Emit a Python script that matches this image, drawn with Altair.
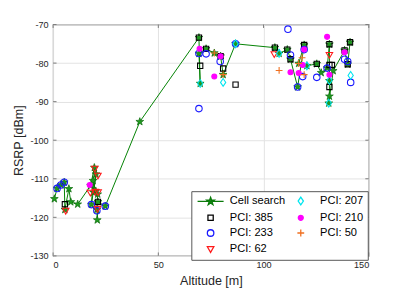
import math
import altair as alt
import pandas as pd

# ---------------- data ----------------
cs_alt = [0.6, 1.9, 3.7, 5.3, 5.6, 7.5, 8.4, 11.7, 17.8, 19.6, 19.2, 20.4, 18.2, 19.0,
          20.3, 21.2, 20.8, 21.0, 21.3, 24.8, 41.2, 69.3, 69.9, 69.3, 72.7, 76.6, 79.6,
          80.8, 86.7, 105.4, 107.4, 111.3, 112.8, 116.2, 119.3, 116.7, 120.6, 125.3,
          127.4, 130.2, 131.3, 131.3, 131.3, 131.0, 133.1, 138.5, 140.0, 141.1]
cs_rsrp = [-115.2, -112.5, -111.6, -110.9, -118.0, -112.6, -116.0, -116.6, -111.8, -107.1,
           -113.5, -108.8, -116.7, -110.5, -113.2, -114.0, -118.0, -120.7, -116.0, -117.1,
           -95.2, -73.4, -85.3, -77.5, -76.3, -77.4, -78.2, -83.0, -75.0, -76.0, -77.5,
           -76.5, -79.0, -86.2, -75.3, -80.1, -80.7, -80.2, -82.5, -81.3, -75.1, -84.6,
           -88.6, -90.4, -82.0, -76.7, -80.3, -74.6]

pci385_alt = [5.6, 21.3, 69.3, 69.9, 72.7, 79.6, 80.8, 86.7, 105.4, 111.3, 112.8, 119.3,
              125.3, 131.3, 131.3, 132.5, 131.3, 138.5, 140.0, 141.1]
pci385_rsrp = [-116.6, -116.0, -73.4, -80.7, -76.3, -78.2, -81.4, -85.6, -76.0, -76.5,
               -79.0, -75.3, -80.2, -75.1, -80.5, -80.5, -86.2, -76.7, -80.3, -74.6]

pci233_alt = [1.9, 3.7, 5.3, 18.2, 20.8, 24.8, 69.3, 72.7, 69.3, 79.4, 86.7, 111.6, 112.8,
              116.2, 118.6, 119.3, 125.3, 130.2, 138.5, 140.0, 141.4]
pci233_rsrp = [-112.5, -111.6, -110.9, -116.7, -118.3, -117.1, -77.5, -77.6, -91.8, -79.6,
               -75.0, -71.2, -77.9, -86.2, -83.5, -76.5, -83.7, -81.3, -79.0, -79.6, -85.0]

pci62_alt = [6.0, 19.8, 21.3, 17.7, 20.0, 21.4, 21.1, 105.1, 131.3]
pci62_rsrp = [-118.3, -107.4, -109.2, -113.6, -113.4, -113.5, -117.8, -77.7, -77.9]

pci207_alt = [69.9, 80.8, 86.7, 107.4, 120.6, 131.3, 131.0, 141.4]
pci207_rsrp = [-85.3, -85.0, -75.0, -77.5, -80.7, -84.5, -90.4, -83.2]

pci210_alt = [17.4, 69.6, 76.6, 79.6, 112.8, 118.6, 116.7, 119.3, 130.2, 131.3, 138.5]
pci210_rsrp = [-111.6, -76.3, -83.5, -78.2, -82.4, -80.5, -82.6, -76.5, -73.2, -83.0, -77.2]

pci50_alt = [76.6, 80.8, 107.4, 116.7, 118.3, 119.3]
pci50_rsrp = [-77.4, -83.0, -81.9, -80.1, -78.6, -83.0]

x_ticks = [0, 50, 100, 150]
y_ticks = [-130, -120, -110, -100, -90, -80, -70]

# ---------------- tables ----------------
cs_df = pd.DataFrame({"alt": cs_alt, "rsrp": cs_rsrp, "idx": list(range(len(cs_alt)))})

pci_sets = [
    ("PCI: 385", pci385_alt, pci385_rsrp),
    ("PCI: 233", pci233_alt, pci233_rsrp),
    ("PCI: 62", pci62_alt, pci62_rsrp),
    ("PCI: 207", pci207_alt, pci207_rsrp),
    ("PCI: 210", pci210_alt, pci210_rsrp),
    ("PCI: 50", pci50_alt, pci50_rsrp),
]
rows = []
for name, xs, ys in pci_sets:
    for a, r in zip(xs, ys):
        rows.append({"alt": a, "rsrp": r, "series": name})
pci_df = pd.DataFrame(rows)

xt_df = pd.DataFrame({"alt": x_ticks})
yt_df = pd.DataFrame({"rsrp": y_ticks})


def star_path(R, r):
    pts = []
    for k in range(10):
        ang = math.radians(-90 + 36 * k)
        rad = R if k % 2 == 0 else r
        pts.append(f"{rad * math.cos(ang):.3f},{rad * math.sin(ang):.3f}")
    return "M" + "L".join(pts) + "Z"


# invisible move-tos give every legend symbol the same width
EXT = "M-4.2,0M4.2,0"
point_star = star_path(1.2, 0.48)
cs_shape = "M-4.2,0H4.2" + star_path(1.3, 0.52)
square_shape = "M-0.85,-0.85H0.85V0.85H-0.85Z" + EXT
circle_shape = "M1.05,0A1.05,1.05,0,1,1,-1.05,0A1.05,1.05,0,1,1,1.05,0Z" + EXT
blob_shape = "M0.8,0A0.8,0.8,0,1,1,-0.8,0A0.8,0.8,0,1,1,0.8,0Z" + EXT
tri_shape = "M-1.05,-0.8L1.05,-0.8L0,1.05Z" + EXT
diamond_shape = "M0,-1.25L0.85,0L0,1.25L-0.85,0Z" + EXT
plus_shape = "M-1.1,0H1.1M0,-1.1V1.1" + EXT

# legend fills column by column (2 columns)
domain = ["Cell search", "PCI: 385", "PCI: 233", "PCI: 62", "PCI: 207", "PCI: 210", "PCI: 50"]
shapes = [cs_shape, square_shape, circle_shape, tri_shape, diamond_shape, blob_shape, plus_shape]
strokes = ["#0a7a0a", "#000000", "#1a1aff", "#ff1a1a", "#00e5ee", "#ff00ff", "#f07020"]
fills = ["#1f9a1f", "transparent", "transparent", "transparent", "transparent", "#ff00ff", "transparent"]

W, H = 322, 236
TICK = 3.5

xscale = alt.Scale(domain=[0, 150], nice=False, zero=False)
yscale = alt.Scale(domain=[-130, -70], nice=False, zero=False)

x_enc = alt.X("alt:Q", scale=xscale,
              axis=alt.Axis(values=x_ticks, title="Altitude [m]", labelExpr="'' + datum.value"))
y_enc = alt.Y("rsrp:Q", scale=yscale,
              axis=alt.Axis(values=y_ticks, title="RSRP [dBm]", labelExpr="'' + datum.value"))

line = alt.Chart(cs_df).mark_line(color="#008000", strokeWidth=1).encode(
    x=x_enc, y=y_enc, order="idx:Q")

stars = alt.Chart(cs_df).mark_point(
    shape=point_star, filled=True, fill="#1f9a1f", stroke="#0a6a0a", strokeWidth=0.7,
    size=48, opacity=1).encode(x=x_enc, y=y_enc)

legend = alt.Legend(
    title=None, orient="none", legendX=141, legendY=170, columns=2,
    symbolSize=40, symbolStrokeWidth=1.3, labelFontSize=11.3, labelColor="#000000",
    labelFont="Liberation Sans", padding=4, rowPadding=3.5, columnPadding=-6,
    symbolOffset=10, labelOffset=14, fillColor="#ffffff", strokeColor="#555555",
    cornerRadius=0)

pts = alt.Chart(pci_df).mark_point(size=40, strokeWidth=1.1, opacity=1).encode(
    x=x_enc, y=y_enc,
    shape=alt.Shape("series:N", scale=alt.Scale(domain=domain, range=shapes), legend=legend),
    stroke=alt.Stroke("series:N", scale=alt.Scale(domain=domain, range=strokes), legend=legend),
    fill=alt.Fill("series:N", scale=alt.Scale(domain=domain, range=fills), legend=legend),
)

# inward ticks on all four sides (MATLAB box style)
tick_color = "#7a7a7a"
xt_bottom = alt.Chart(xt_df).mark_rule(color=tick_color, strokeWidth=1).encode(
    x=x_enc, y=alt.value(H), y2=alt.value(H - TICK))
xt_top = alt.Chart(xt_df).mark_rule(color=tick_color, strokeWidth=1).encode(
    x=x_enc, y=alt.value(0), y2=alt.value(TICK))
yt_left = alt.Chart(yt_df).mark_rule(color=tick_color, strokeWidth=1).encode(
    y=y_enc, x=alt.value(0), x2=alt.value(TICK))
yt_right = alt.Chart(yt_df).mark_rule(color=tick_color, strokeWidth=1).encode(
    y=y_enc, x=alt.value(W), x2=alt.value(W - TICK))

chart = alt.layer(xt_bottom, xt_top, yt_left, yt_right, line, stars, pts).properties(
    width=W, height=H,
    autosize=alt.AutoSizeParams(type="none"),
    padding={"left": 46, "top": 14, "right": 39, "bottom": 36},
).configure(font="Liberation Sans").configure_view(
    stroke="#8a8a8a", strokeWidth=1.2
).configure_axis(
    grid=True, gridColor="#e2e2e2", gridWidth=1, domain=False, ticks=False,
    labelFontSize=9.3, labelColor="#262626", labelPadding=5,
    titleFontSize=12.8, titleFontWeight="normal", titleColor="#262626",
).configure_axisX(titlePadding=5).configure_axisY(titlePadding=5)

chart.save("out.html", embed_options={"renderer": "svg", "actions": False})
